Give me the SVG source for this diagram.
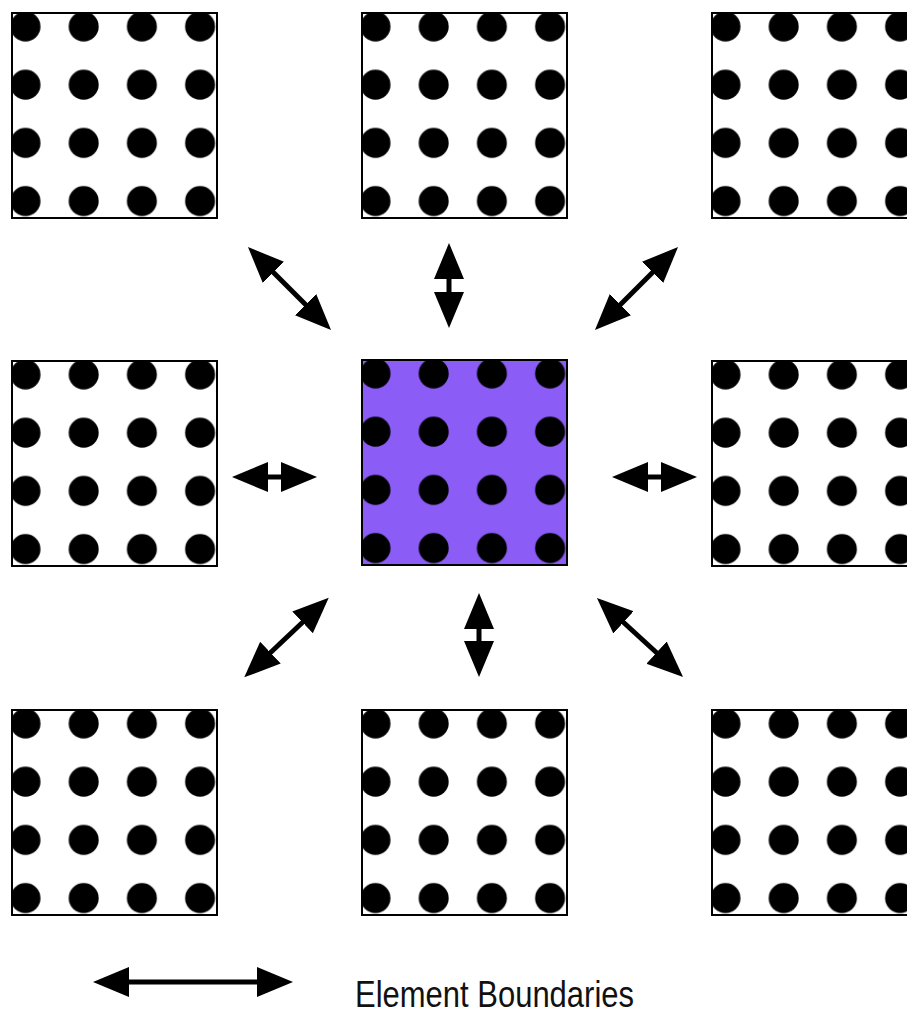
<svg xmlns="http://www.w3.org/2000/svg" width="907" height="1013" viewBox="0 0 907 1013">
  <style>
    .bg { fill: #ffffff; }
    .bg-center { fill: #8b5cf6; }
    .dots { fill: url(#dotPattern); }
    .border { fill: none; stroke: #000000; stroke-width: 2; }
    .arrow { stroke: #000000; stroke-width: 5; fill: none; marker-start: url(#head); marker-end: url(#head); }
    .label { font-family: "Liberation Sans", Arial, sans-serif; font-size: 36px; fill: #111111; }
  </style>
  <defs>
    <pattern id="dotPattern" patternUnits="userSpaceOnUse" x="-15.6" y="-15.6" width="58.2" height="58.2">
      <circle cx="29.1" cy="29.1" r="15" fill="#000000"/>
    </pattern>
    <marker id="head" markerUnits="userSpaceOnUse" viewBox="0 -17 40 34" markerWidth="40" markerHeight="34" refX="2" refY="0" orient="auto-start-reverse">
      <path d="M0,-15 L36,0 L0,15 Z" fill="#000000"/>
    </marker>
  </defs>
  <rect x="0" y="0" width="907" height="1013" fill="#ffffff"/>

  <g id="elem-top-left" transform="translate(12,13)">
    <rect class="bg" width="205" height="205"/>
    <rect class="dots" width="205" height="205"/>
    <rect class="border" width="205" height="205"/>
  </g>
  <g id="elem-top-center" transform="translate(362,13)">
    <rect class="bg" width="205" height="205"/>
    <rect class="dots" width="205" height="205"/>
    <rect class="border" width="205" height="205"/>
  </g>
  <g id="elem-top-right" transform="translate(712,13)">
    <rect class="bg" width="205" height="205"/>
    <rect class="dots" width="205" height="205"/>
    <rect class="border" width="205" height="205"/>
  </g>
  <g id="elem-mid-left" transform="translate(12,361)">
    <rect class="bg" width="205" height="205"/>
    <rect class="dots" width="205" height="205"/>
    <rect class="border" width="205" height="205"/>
  </g>
  <g id="elem-center" transform="translate(362,360)">
    <rect class="bg-center" width="205" height="205"/>
    <rect class="dots" width="205" height="205"/>
    <rect class="border" width="205" height="205"/>
  </g>
  <g id="elem-mid-right" transform="translate(712,361)">
    <rect class="bg" width="205" height="205"/>
    <rect class="dots" width="205" height="205"/>
    <rect class="border" width="205" height="205"/>
  </g>
  <g id="elem-bottom-left" transform="translate(12,710)">
    <rect class="bg" width="205" height="205"/>
    <rect class="dots" width="205" height="205"/>
    <rect class="border" width="205" height="205"/>
  </g>
  <g id="elem-bottom-center" transform="translate(362,710)">
    <rect class="bg" width="205" height="205"/>
    <rect class="dots" width="205" height="205"/>
    <rect class="border" width="205" height="205"/>
  </g>
  <g id="elem-bottom-right" transform="translate(712,710)">
    <rect class="bg" width="205" height="205"/>
    <rect class="dots" width="205" height="205"/>
    <rect class="border" width="205" height="205"/>
  </g>

  <g id="connectors">
    <line class="arrow" x1="272" y1="271" x2="307" y2="306"/>
    <line class="arrow" x1="449" y1="277" x2="449" y2="294"/>
    <line class="arrow" x1="654" y1="271" x2="619" y2="306"/>
    <line class="arrow" x1="266" y1="477" x2="283" y2="477"/>
    <line class="arrow" x1="646" y1="477" x2="663" y2="477"/>
    <line class="arrow" x1="304" y1="621" x2="269" y2="654"/>
    <line class="arrow" x1="479" y1="627" x2="479" y2="643"/>
    <line class="arrow" x1="622" y1="621" x2="658" y2="654"/>
  </g>

  <g id="legend">
    <line class="arrow" x1="127" y1="982" x2="259" y2="982"/>
    <text class="label" x="355" y="1007" textLength="279" lengthAdjust="spacingAndGlyphs">Element Boundaries</text>
  </g>
</svg>
